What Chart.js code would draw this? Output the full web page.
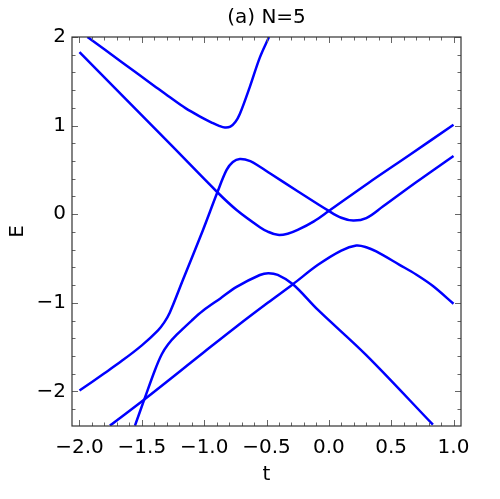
<!DOCTYPE html>
<html>
<head>
<meta charset="utf-8">
<script src="https://cdn.jsdelivr.net/npm/chart.js@4.4.1/dist/chart.umd.min.js"></script>
<style>
html, body { margin: 0; padding: 0; background: #fff; }
#wrap { width: 500px; height: 499px; }
</style>
</head>
<body>
<div id="wrap"><canvas id="levelChart" width="500" height="499"></canvas></div>
<script>
// energy levels E(t) for N=5
const tA = [-1.936, -1.66, -1.40, -1.277, -1.15, -1.01, -0.94, -0.88, -0.834, -0.79, -0.75, -0.714, -0.633, -0.553, -0.48];
const eA = [2.0, 1.716, 1.448, 1.322, 1.197, 1.085, 1.035, 0.997, 0.978, 0.988, 1.04, 1.13, 1.44, 1.77, 2.0];

const tB = [-2.0, -1.66, -1.26, -0.894, -0.74, -0.553, -0.49, -0.41, -0.33, -0.25, -0.12, 0.0, 0.315, 0.647, 1.0];
const eB = [1.83, 1.345, 0.773, 0.248, 0.048, -0.146, -0.196, -0.233, -0.22, -0.177, -0.08, 0.037, 0.35, 0.668, 1.01];

const tC = [-1.555, -1.48, -1.395, -1.34, -1.29, -1.22, -1.10, -1.01, -0.87, -0.74, -0.553, -0.486, -0.41, -0.288, -0.087, 0.30, 0.835];
const eC = [-2.385, -2.09, -1.76, -1.58, -1.47, -1.36, -1.20, -1.09, -0.95, -0.82, -0.686, -0.665, -0.684, -0.79, -1.08, -1.59, -2.375];

const tD = [-2.0, -1.80, -1.66, -1.50, -1.37, -1.32, -1.277, -1.17, -1.01, -0.894, -0.82, -0.77, -0.714, -0.63, -0.553, -0.47, -0.25, 0.0, 0.10, 0.195, 0.30, 0.433, 0.70, 1.0];
const eD = [-1.99, -1.795, -1.655, -1.48, -1.31, -1.22, -1.115, -0.74, -0.18, 0.248, 0.50, 0.59, 0.623, 0.60, 0.536, 0.46, 0.26, 0.037, -0.04, -0.072, -0.045, 0.086, 0.36, 0.657];

const tE = [-1.756, -1.48, -1.01, -0.74, -0.49, -0.288, -0.087, 0.10, 0.22, 0.30, 0.38, 0.567, 0.70, 0.835, 1.0];
const eE = [-2.385, -2.09, -1.566, -1.267, -1.0, -0.79, -0.571, -0.41, -0.354, -0.372, -0.42, -0.571, -0.68, -0.81, -1.01];

const xTicks = [-2.0, -1.5, -1.0, -0.5, 0.0, 0.5, 1.0];
const yTicks = [-2, -1, 0, 1, 2];

const FONT = "'DejaVu Sans', sans-serif";

function pts(ts, es) {
    return ts.map((t, i) => ({ x: t, y: es[i] }));
}

function minusSign(s) {
    return s.replace('-', '\u2212');
}

function branch(ts, es) {
    return {
        data: pts(ts, es),
        showLine: true,
        borderColor: '#0000ff',
        borderWidth: 2.5,
        pointRadius: 0,
        tension: 0.35,
        fill: false
    };
}

// frame with inward ticks on all four sides (Mathematica style)
const frameTicks = {
    id: 'frameTicks',
    afterDatasetsDraw(chart) {
        const { ctx, chartArea: a, scales: { x, y } } = chart;
        ctx.save();
        ctx.strokeStyle = '#666';
        ctx.lineWidth = 1;
        ctx.beginPath();
        for (let i = -20; i <= 10; i++) {
            const px = Math.round(x.getPixelForValue(i / 10)) + 0.5;
            const len = i % 5 === 0 ? 6 : 3.5;
            ctx.moveTo(px, a.bottom); ctx.lineTo(px, a.bottom - len);
            ctx.moveTo(px, a.top); ctx.lineTo(px, a.top + len);
        }
        for (let i = -11; i <= 10; i++) {
            const py = Math.round(y.getPixelForValue(i / 5)) + 0.5;
            const len = i % 5 === 0 ? 6 : 3.5;
            ctx.moveTo(a.left, py); ctx.lineTo(a.left + len, py);
            ctx.moveTo(a.right, py); ctx.lineTo(a.right - len, py);
        }
        ctx.stroke();
        ctx.strokeStyle = '#333';
        ctx.lineWidth = 1.2;
        ctx.strokeRect(a.left, a.top, a.right - a.left, a.bottom - a.top);
        ctx.restore();
    }
};

new Chart(document.getElementById('levelChart'), {
    type: 'scatter',
    data: {
        datasets: [
            branch(tA, eA),
            branch(tB, eB),
            branch(tC, eC),
            branch(tD, eD),
            branch(tE, eE)
        ]
    },
    options: {
        responsive: false,
        animation: false,
        devicePixelRatio: 1,
        layout: { padding: { left: 0, right: 39, top: 0, bottom: 0 } },
        plugins: {
            legend: { display: false },
            tooltip: { enabled: false },
            title: {
                display: true,
                text: '(a) N=5',
                fullSize: false,
                color: '#000',
                font: { family: FONT, size: 20, weight: 'normal' },
                padding: { top: 6, bottom: 7 }
            }
        },
        scales: {
            x: {
                type: 'linear',
                min: -2.06,
                max: 1.06,
                afterBuildTicks: function(scale) {
                    scale.ticks = xTicks.map(v => ({ value: v }));
                },
                afterFit: function(scale) {
                    scale.height = 73;
                },
                grid: { display: false, drawTicks: false },
                border: { display: false },
                ticks: {
                    color: '#000',
                    padding: 10,
                    maxRotation: 0,
                    font: { family: FONT, size: 20 },
                    callback: function(value) {
                        return minusSign(value.toFixed(1));
                    }
                },
                title: {
                    display: true,
                    text: 't',
                    color: '#000',
                    font: { family: FONT, size: 20 },
                    padding: { top: 0, bottom: 12 }
                }
            },
            y: {
                type: 'linear',
                min: -2.39,
                max: 2,
                afterBuildTicks: function(scale) {
                    scale.ticks = yTicks.map(v => ({ value: v }));
                },
                afterFit: function(scale) {
                    scale.width = 72;
                },
                grid: { display: false, drawTicks: false },
                border: { display: false },
                ticks: {
                    color: '#000',
                    padding: 6,
                    font: { family: FONT, size: 20 },
                    callback: function(value) {
                        return minusSign(String(value));
                    }
                },
                title: {
                    display: true,
                    text: 'E',
                    color: '#000',
                    font: { family: FONT, size: 20 },
                    padding: { top: 6, bottom: 0 }
                }
            }
        }
    },
    plugins: [frameTicks]
});
</script>
</body>
</html>
